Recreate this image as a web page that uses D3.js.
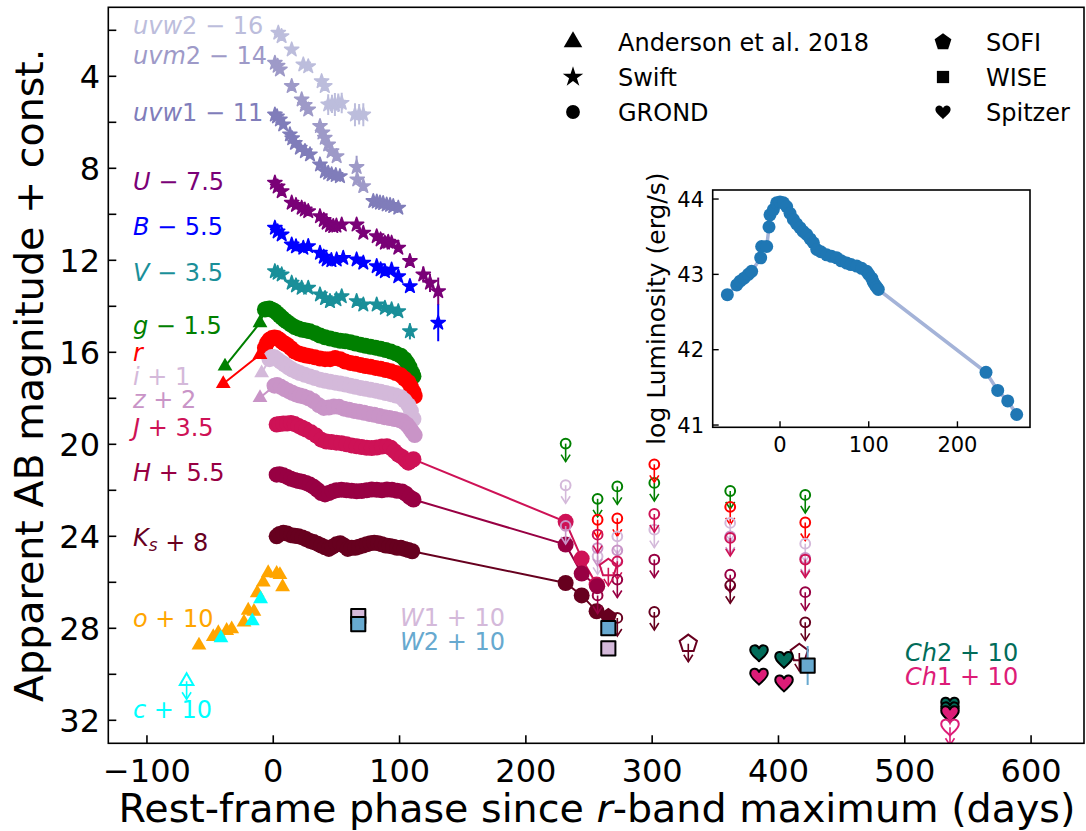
<!DOCTYPE html>
<html>
<head>
<meta charset="utf-8">
<script src="https://cdn.jsdelivr.net/npm/d3@7"></script>
<style>
  body { margin: 0; background: #fff; }
  svg { font-family: 'DejaVu Sans', sans-serif; }
</style>
</head>
<body>
<svg id="chart" width="1086" height="831"></svg>
<script>
// ---- Swift UVOT (phase, mag, err) ----
const uvw2 = [[4.0,2.11],[6.6,2.26],[14.6,2.84],[23.8,3.49],[27.7,3.57],[38.3,4.22],[40.8,4.43],[43.5,5.23,0.45],[46.5,5.2,0.4],[48.8,5.23,0.5],[51.5,5.15,0.4],[54.2,5.16,0.45],[64.7,5.67,0.5],[68,5.65,0.45],[71.3,5.67,0.5]];
const uvm2 = [[1.3,3.42],[3.5,3.55],[5.3,3.71],[14.6,4.43],[22.5,5.01],[25,5.25],[27.7,5.45],[37.0,6.17],[39,6.45],[40.8,6.68],[43.5,6.97],[46.2,7.26],[50.2,7.48],[66.0,7.95,0.5],[66.5,8.49],[71.3,8.78]];
const uvw1 = [[1.3,5.67],[3,5.75],[5.3,5.88],[7.9,6.10],[13.2,6.53],[15,6.7],[17.2,6.90],[21.1,7.11],[25.1,7.26],[29.1,7.40],[37.0,7.84],[40.9,8.13],[43.5,8.2],[46.2,8.27],[49.5,8.3],[52.8,8.35],[79.2,9.43,0.2],[82,9.45,0.2],[84.5,9.50,0.2],[87,9.52,0.2],[89.8,9.58,0.2],[92.5,9.6,0.2],[95.0,9.65,0.2],[99.0,9.72,0.2]];
const uBand = [[1.3,8.63],[3.5,8.8],[6.7,9.0],[14.6,9.50],[18,9.6],[22.5,9.72],[25,9.8],[27.7,9.87],[37.0,10.09],[40,10.25],[42.3,10.37],[45,10.48],[47.5,10.52],[50,10.5],[54.2,10.45],[66.0,10.45],[71.3,10.81],[81.9,10.96],[85,11.1],[88.4,11.24],[91,11.2],[93.7,11.24],[99.0,11.46],[108.2,12.04],[118.8,12.62,0.35],[124.1,12.98,0.4],[130.6,13.35,0.6]];
const bBand = [[1.3,10.59],[3.5,10.75],[6.7,10.88],[14.6,11.32],[18,11.4],[23.8,11.46],[27.7,11.39],[37.0,11.68],[40,11.85],[42.3,11.97],[46,12.0],[50.2,11.97],[55.4,11.90],[66.0,11.97],[71.3,12.11],[81.9,12.26],[85,12.4],[88.4,12.48],[93.7,12.41],[99.0,12.70],[108.2,13.13],[130.6,14.72,0.8]];
const vBand = [[1.3,12.48],[3.5,12.55],[6.7,12.62],[14.6,12.98],[18,13.1],[22.5,13.20],[27.7,13.20],[37.0,13.49],[41,13.65],[44.9,13.78],[50,13.7],[54.2,13.57],[66.0,13.78],[71.3,13.93],[81.9,13.93],[88.4,14.07],[93.7,14.14],[99.0,14.22],[108.2,15.09,0.35]];

// ---- GROND (phase, mag) ----
const gGrond = [[-6.6,14.14],[-5,14.12],[-3,14.1],[-1,14.15],[1,14.2],[3,14.3],[5,14.4],[7,14.5],[9,14.6],[11,14.68],[14,14.8],[17,14.9],[20,14.97],[23,15.02],[26,15.05],[29,15.09],[33,15.17],[37,15.27],[41,15.35],[45,15.4],[49,15.45],[53,15.5],[57,15.52],[61,15.56],[65,15.62],[69,15.67],[73,15.72],[77,15.76],[81,15.8],[85,15.85],[89,15.9],[93,15.97],[97,16.05],[101,16.15],[104,16.3],[106,16.45],[108,16.65],[110,16.9],[111,17.04]];
const rGrond = [[-6.6,15.81],[-5,15.6],[-3,15.45],[-1,15.38],[1,15.36],[3,15.38],[5,15.45],[7,15.55],[9,15.62],[11,15.68],[14,15.82],[17,15.97],[20,16.05],[23,16.1],[26,16.14],[29,16.17],[33,16.22],[37,16.27],[41,16.3],[45,16.3],[49,16.25],[53,16.3],[57,16.4],[61,16.46],[65,16.5],[69,16.55],[73,16.6],[77,16.63],[81,16.68],[85,16.72],[89,16.77],[93,16.82],[97,16.9],[101,17.0],[104,17.15],[107,17.3],[109,17.5],[111,17.72],[112,17.9]];
const iGrond = [[-3,16.3],[-1,16.2],[1,16.22],[3,16.3],[6,16.42],[9,16.53],[12,16.65],[15,16.75],[18,16.83],[21,16.9],[25,16.98],[29,17.05],[33,17.12],[37,17.19],[41,17.24],[45,17.28],[49,17.32],[53,17.36],[57,17.4],[61,17.45],[65,17.5],[69,17.55],[73,17.59],[77,17.63],[81,17.67],[85,17.72],[89,17.77],[93,17.82],[97,17.88],[101,17.95],[104,18.1],[107,18.3],[109,18.55],[111,18.9]];
const zGrond = [[1,17.45],[3,17.42],[6,17.5],[9,17.6],[12,17.68],[15,17.76],[18,17.83],[21,17.88],[24,17.92],[28,18.0],[32,18.12],[36,18.3],[40,18.42],[44,18.4],[48,18.36],[52,18.37],[56,18.45],[60,18.5],[64,18.55],[68,18.59],[72,18.63],[76,18.68],[80,18.72],[84,18.77],[88,18.82],[92,18.86],[96,18.9],[100,18.95],[103,19.02],[106,19.15],[108,19.3],[110,19.45],[112,19.6]];
const jGrond = [[2.7,19.14],[5,19.12],[8,19.1],[11,19.1],[14,19.07],[17,19.12],[20,19.2],[23,19.28],[26,19.36],[30,19.48],[34,19.62],[38,19.8],[42,19.88],[46,19.9],[50,19.93],[54,19.95],[58,20.0],[62,20.05],[66,20.09],[70,20.12],[74,20.15],[78,20.16],[82,20.14],[86,20.1],[90,20.08],[93,20.15],[96,20.3],[99,20.45],[102,20.55],[105,20.7],[107,20.8],[109,20.72],[111,20.65]];
const hGrond = [[2.7,21.32],[5,21.3],[8,21.35],[11,21.42],[14,21.5],[17,21.55],[20,21.6],[23,21.63],[26,21.68],[29,21.75],[32,21.85],[35,21.98],[38,22.12],[41,22.18],[44,22.12],[47,22.05],[50,22.0],[54,21.98],[58,22.0],[62,22.02],[66,22.04],[70,22.03],[74,22.0],[78,21.97],[82,21.98],[86,22.0],[90,21.97],[94,21.98],[98,22.02],[102,22.05],[105,22.15],[108,22.3],[111,22.4]];
const ksGrond = [[2.7,24.0],[5,23.9],[8,23.85],[11,23.88],[14,23.95],[17,23.98],[20,24.0],[23,24.05],[26,24.12],[29,24.2],[32,24.25],[35,24.32],[38,24.4],[41,24.48],[44,24.55],[47,24.45],[50,24.35],[53,24.3],[56,24.4],[59,24.55],[62,24.5],[65,24.5],[68,24.45],[71,24.4],[74,24.35],[77,24.3],[80,24.28],[83,24.3],[86,24.35],[89,24.4],[92,24.42],[95,24.45],[98,24.5],[101,24.5],[104,24.55],[107,24.6],[110,24.65]];
const jLate = [[231.5,23.37],[244.2,24.97],[256.0,26.10]];
const hLate = [[231.5,24.36],[244.2,25.62],[256.5,26.17]];
const ksLate = [[231.5,26.03],[244.2,26.57],[256.0,27.26]];

// ---- GROND upper limits ----
const gLim = [[231.5,19.97],[256.8,22.37],[272.4,21.83],[301.7,21.68],[361.8,22.03],[421.2,22.2]];
const rLim = [[256.8,23.28],[272.4,23.22],[301.7,20.87],[361.8,22.72],[421.2,23.40]];
const iLim = [[231.5,21.78],[256.8,24.87],[272.4,24.0],[301.7,23.71],[361.8,23.42],[421.2,24.32]];
const zLim = [[231.5,23.55],[256.8,24.51],[272.4,24.61],[361.8,24.0],[421.2,24.94]];
const jLim = [[256.8,23.93],[272.4,25.09],[301.7,23.03],[361.8,24.07],[421.2,25.01]];
const hLim = [[256.8,26.57],[272.4,25.88],[301.7,25.01],[361.8,25.67],[421.2,26.43]];
const ksLim = [[272.4,27.55],[301.7,27.29],[361.8,26.13],[421.2,27.74]];

// ---- Anderson et al. 2018 ----
const gAnd = [[-38.2,16.61],[-10.5,14.72]];
const rAnd = [[-39.6,17.37],[-10.5,16.10]];
const iAnd = [[-9.2,16.9]];
const zAnd = [[-10.5,17.98]];
const oAnd = [[-58.8,28.74],[-47.5,28.37],[-43.5,28.20],[-36.9,28.10],[-32.9,28.03],[-23.2,27.74],[-19.8,27.22],[-15.3,27.27],[-12.7,26.46],[-7.9,26.0],[-4.0,25.59],[2.7,25.62],[5.3,25.67],[7.4,26.20]];
const cAnd = [[-41.4,28.42],[-16.6,27.68],[-10.0,26.72]];
const cLim = [[-68.6,30.3]];

// ---- SOFI, WISE, Spitzer ----
const sofiJLim = [[265.3,25.37]];
const sofiKs = [[265.3,27.5]];
const sofiKsLim = [[328.6,28.67],[416.5,29.07]];
const wiseW1 = [[67.3,27.47],[265.3,28.87,0.3]];
const wiseW2 = [[67.3,27.82],[265.3,27.99],[423.1,29.62,0.85]];
const ch2 = [[384.6,29.07],[404.4,29.36],[535.8,31.35],[535.8,31.55]];
const ch1 = [[384.6,30.09],[404.4,30.38],[535.8,31.72]];
const ch1Lim = [[535.8,32.3]];

// ---- bolometric luminosity (inset) ----
const lumData = [[-59.4,42.73],[-48.8,42.86],[-45,42.91],[-40.6,42.95],[-35.7,43.0],[-32,43.04],[-21.8,43.22],[-20.7,43.37],[-15,43.37],[-12.4,43.63],[-11.3,43.79],[-7.5,43.86],[-3.8,43.95],[0,43.96],[3.8,43.95],[7.5,43.9],[11.3,43.81],[15,43.73],[18.7,43.67],[22.5,43.62],[26,43.57],[30,43.53],[34,43.47],[37.6,43.42],[41.4,43.33],[46,43.3],[52.6,43.26],[58,43.24],[63.9,43.22],[69,43.18],[75.2,43.15],[80,43.13],[86.5,43.11],[92,43.08],[97.7,43.04],[100,43.0],[103.4,42.95],[105,42.9],[107.1,42.86],[109,42.83],[110.8,42.80],[232.2,41.70],[245.4,41.46],[256.7,41.32],[266.8,41.14]];

// ---- ticks and legend ----
const xTicks = [-100, 0, 100, 200, 300, 400, 500, 600];
const yTicks = d3.range(2, 33, 2);
const yLabels = [4, 8, 12, 16, 20, 24, 28, 32];
const insetXTicks = [0, 100, 200];
const insetYTicks = [41, 42, 43, 44];
const legendItems = [
  { key: 'Anderson et al. 2018', shape: 'triangle', col: 0, row: 0 },
  { key: 'Swift', shape: 'star', col: 0, row: 1 },
  { key: 'GROND', shape: 'circle', col: 0, row: 2 },
  { key: 'SOFI', shape: 'pentagon', col: 1, row: 0 },
  { key: 'WISE', shape: 'square', col: 1, row: 1 },
  { key: 'Spitzer', shape: 'heart', col: 1, row: 2 }
];

// band labels: [parts, color, x, baseline]; part = [text, italic?, sub?]
const bandLabels = [
  [[['uvw', 1], ['2'], [' \u2212 16']], '#bcbddc', 133, 34],
  [[['uvm', 1], ['2'], [' \u2212 14']], '#9e9ac8', 133, 64],
  [[['uvw', 1], ['1'], [' \u2212 11']], '#807dba', 133, 121],
  [[['U', 1], [' \u2212 7.5']], '#7a0177', 133, 190],
  [[['B', 1], [' \u2212 5.5']], '#0000ff', 133, 235],
  [[['V', 1], [' \u2212 3.5']], '#1a8f99', 133, 281],
  [[['g', 1], [' \u2212 1.5']], '#008000', 133, 334],
  [[['r', 1]], '#ff0000', 133, 361],
  [[['i', 1], [' + 1']], '#d4b9da', 133, 385],
  [[['z', 1], [' + 2']], '#c994c7', 133, 408],
  [[['J', 1], [' + 3.5']], '#ce1256', 133, 436],
  [[['H', 1], [' + 5.5']], '#980043', 133, 481],
  [[['K', 1], ['s', 1, 1], [' + 8']], '#67001f', 133, 546],
  [[['o', 1], [' + 10']], '#ffa500', 133, 627],
  [[['c', 1], [' + 10']], '#00ffff', 133, 718],
  [[['W', 1], ['1'], [' + 10']], '#d4b9da', 400, 626],
  [[['W', 1], ['2'], [' + 10']], '#67a9cf', 400, 650],
  [[['Ch', 1], ['2'], [' + 10']], '#016c59', 905, 661],
  [[['Ch', 1], ['1'], [' + 10']], '#dd1c77', 905, 685]
];

const C = {
  uvw2: '#bcbddc', uvm2: '#9e9ac8', uvw1: '#807dba', U: '#7a0177', B: '#0000ff', V: '#1a8f99',
  g: '#008000', r: '#ff0000', i: '#d4b9da', z: '#c994c7', J: '#ce1256', H: '#980043', Ks: '#67001f',
  o: '#ffa500', c: '#00ffff', W1: '#d4b9da', W2: '#67a9cf', Ch2: '#016c59', Ch1: '#dd1c77'
};

const svg = d3.select('#chart');
const margin = { left: 108.3, right: 1084, top: 7.3, bottom: 743.3 };

const x = d3.scaleLinear().domain([-130.6, 641.9]).range([margin.left, margin.right]);
const y = d3.scaleLinear().domain([1, 33]).range([margin.top, margin.bottom]);

// shape helpers
function pentagon(r) {
  const pts = d3.range(5).map(k => {
    const a = -Math.PI / 2 + k * 2 * Math.PI / 5;
    return [r * Math.cos(a), r * Math.sin(a)];
  });
  return 'M' + pts.map(p => p.join(',')).join('L') + 'Z';
}
function heart(s) {
  return `M0,${0.95*s} C${-0.3*s},${0.6*s} ${-1.05*s},${0.15*s} ${-1.0*s},${-0.38*s} ` +
    `C${-0.95*s},${-0.95*s} ${-0.2*s},${-1.05*s} 0,${-0.5*s} ` +
    `C${0.2*s},${-1.05*s} ${0.95*s},${-0.95*s} ${1.0*s},${-0.38*s} ` +
    `C${1.05*s},${0.15*s} ${0.3*s},${0.6*s} 0,${0.95*s} Z`;
}
const shapePath = {
  triangle: size => d3.symbol().type(d3.symbolTriangle).size(size)(),
  star: size => d3.symbol().type(d3.symbolStar).size(size)(),
  circle: size => d3.symbol().type(d3.symbolCircle).size(size)(),
  square: size => d3.symbol().type(d3.symbolSquare).size(size)(),
  pentagon: size => pentagon(Math.sqrt(size) * 0.72),
  heart: size => heart(Math.sqrt(size) * 0.62)
};

// clip for the main panel
svg.append('clipPath').attr('id', 'clipMain').append('rect')
  .attr('x', margin.left).attr('y', margin.top)
  .attr('width', margin.right - margin.left).attr('height', margin.bottom - margin.top);

const plot = svg.append('g').attr('clip-path', 'url(#clipMain)');
const lineGen = d3.line().x(d => x(d[0])).y(d => y(d[1]));

function drawLine(data, color, w = 2) {
  plot.append('path').datum(data.slice().sort((a, b) => a[0] - b[0]))
    .attr('d', lineGen).attr('fill', 'none').attr('stroke', color).attr('stroke-width', w);
}
function drawErr(data, color) {
  plot.append('g').selectAll('line').data(data.filter(d => d[2])).join('line')
    .attr('x1', d => x(d[0])).attr('x2', d => x(d[0]))
    .attr('y1', d => y(d[1] - d[2])).attr('y2', d => y(d[1] + d[2]))
    .attr('stroke', color).attr('stroke-width', 2);
}
function drawMarks(data, shape, size, fill, stroke, sw) {
  plot.append('g').selectAll('path').data(data).join('path')
    .attr('d', shapePath[shape](size))
    .attr('transform', d => `translate(${x(d[0])},${y(d[1])})`)
    .attr('fill', fill).attr('stroke', stroke || 'none').attr('stroke-width', sw || 0)
    .attr('stroke-linejoin', 'round');
}
function drawLimits(data, shape, size, color) {
  const g = plot.append('g').attr('stroke', color).attr('fill', 'none').attr('stroke-width', 1.6);
  data.forEach(d => {
    const px = x(d[0]), py = y(d[1]);
    g.append('line').attr('x1', px).attr('x2', px).attr('y1', py).attr('y2', py + 18);
    g.append('path').attr('d', `M${px - 4.5},${py + 11} L${px},${py + 18} L${px + 4.5},${py + 11}`);
    g.append('path').attr('d', shapePath[shape](size)).attr('transform', `translate(${px},${py})`)
      .attr('stroke-width', 2);
  });
}

// connecting lines
drawLine(gAnd.concat(gGrond), C.g);
drawLine(rAnd.concat(rGrond), C.r);
drawLine(iAnd.concat(iGrond), C.i);
drawLine(zAnd.concat(zGrond), C.z);
drawLine(jGrond.concat(jLate), C.J);
drawLine(hGrond.concat(hLate), C.H);
drawLine(ksGrond.concat(ksLate, sofiKs), C.Ks);

// GROND bands
[[gGrond, C.g], [rGrond, C.r], [iGrond, C.i], [zGrond, C.z], [jGrond, C.J], [hGrond, C.H], [ksGrond, C.Ks],
 [jLate, C.J], [hLate, C.H], [ksLate, C.Ks]]
  .forEach(([data, col]) => {
    plot.append('g').selectAll('circle').data(data).join('circle')
      .attr('cx', d => x(d[0])).attr('cy', d => y(d[1])).attr('r', 8).attr('fill', col);
  });

// Swift stars
[[uvw2, C.uvw2], [uvm2, C.uvm2], [uvw1, C.uvw1], [uBand, C.U], [bBand, C.B], [vBand, C.V]]
  .forEach(([data, col]) => {
    drawErr(data, col);
    drawMarks(data, 'star', 62, col, col, 1.6);
  });

// Anderson triangles
drawMarks(gAnd, 'triangle', 95, C.g);
drawMarks(rAnd, 'triangle', 95, C.r);
drawMarks(iAnd, 'triangle', 95, C.i);
drawMarks(zAnd, 'triangle', 95, C.z);
drawMarks(oAnd, 'triangle', 95, C.o);
drawMarks(cAnd, 'triangle', 95, C.c);
drawLimits(cLim, 'triangle', 80, C.c);

// upper limits
drawLimits(gLim, 'circle', 75, C.g);
drawLimits(rLim, 'circle', 75, C.r);
drawLimits(iLim, 'circle', 75, C.i);
drawLimits(zLim, 'circle', 75, C.z);
drawLimits(jLim, 'circle', 75, C.J);
drawLimits(hLim, 'circle', 75, C.H);
drawLimits(ksLim, 'circle', 75, C.Ks);

// SOFI
drawMarks(sofiKs, 'pentagon', 160, C.Ks);
drawLimits(sofiJLim, 'pentagon', 160, C.J);
drawLimits(sofiKsLim, 'pentagon', 160, C.Ks);

// WISE
drawErr(wiseW1, C.W1);
drawErr(wiseW2, C.W2);
drawMarks(wiseW1, 'square', 200, C.W1, '#000', 2);
drawMarks(wiseW2, 'square', 200, C.W2, '#000', 2);

// Spitzer
drawMarks(ch2, 'heart', 200, C.Ch2, '#000', 2);
drawMarks(ch1, 'heart', 200, C.Ch1, '#000', 2);
drawLimits(ch1Lim, 'heart', 200, C.Ch1);

// frame
svg.append('rect').attr('x', margin.left).attr('y', margin.top)
  .attr('width', margin.right - margin.left).attr('height', margin.bottom - margin.top)
  .attr('fill', 'none').attr('stroke', '#000').attr('stroke-width', 1.6);

// ticks (inward)
const axes = svg.append('g').attr('stroke', '#000').attr('stroke-width', 1.6);
xTicks.forEach(t => axes.append('line').attr('x1', x(t)).attr('x2', x(t))
  .attr('y1', margin.bottom).attr('y2', margin.bottom - 8));
yTicks.forEach(t => axes.append('line').attr('x1', margin.left).attr('x2', margin.left + 8)
  .attr('y1', y(t)).attr('y2', y(t)));

svg.append('g').selectAll('text').data(xTicks).join('text')
  .attr('x', d => x(d)).attr('y', 782).attr('text-anchor', 'middle')
  .attr('font-size', 32).text(d => d < 0 ? '\u2212' + Math.abs(d) : d);
svg.append('g').selectAll('text').data(yLabels).join('text')
  .attr('x', 100).attr('y', d => y(d) + 11.7).attr('text-anchor', 'end')
  .attr('font-size', 32).text(d => d);

// axis labels
const xl = svg.append('text').attr('x', 597).attr('y', 822).attr('text-anchor', 'middle').attr('font-size', 39.6);
xl.append('tspan').text('Rest-frame phase since ');
xl.append('tspan').attr('font-style', 'italic').text('r');
xl.append('tspan').text('-band maximum (days)');
svg.append('text').attr('transform', `translate(43,${(margin.top + margin.bottom) / 2}) rotate(-90)`)
  .attr('text-anchor', 'middle').attr('font-size', 39.6).text('Apparent AB magnitude + const.');

// band labels
bandLabels.forEach(([parts, col, lx, ly]) => {
  const t = svg.append('text').attr('x', lx).attr('y', ly).attr('font-size', 24).attr('fill', col)
    .attr('xml:space', 'preserve').style('white-space', 'pre');
  parts.forEach(p => {
    const s = t.append('tspan').text(p[0]);
    if (p[1]) s.attr('font-style', 'italic');
    if (p[2]) s.attr('font-size', 17).attr('dy', 5);
  });
});

// legend
const legend = svg.append('g');
legendItems.forEach(d => {
  const mx = d.col === 0 ? 573 : 943;
  const tx = d.col === 0 ? 618 : 986;
  const my = 42 + d.row * 35;
  legend.append('path').attr('d', shapePath[d.shape](d.shape === 'star' ? 130 : 150))
    .attr('transform', `translate(${mx},${my})`).attr('fill', '#000');
  legend.append('text').attr('x', tx).attr('y', my + 9).attr('font-size', 24).text(d.key);
});

// ---- inset ----
const ix = d3.scaleLinear().domain([-75.9, 281.8]).range([712.7, 1030]);
const iy = d3.scaleLinear().domain([40.97, 44.12]).range([427.3, 190]);
const inset = svg.append('g');
inset.append('rect').attr('x', 712.7).attr('y', 190).attr('width', 1030 - 712.7).attr('height', 427.3 - 190)
  .attr('fill', '#fff').attr('stroke', '#000').attr('stroke-width', 1.6);
inset.append('path').datum(lumData)
  .attr('d', d3.line().x(d => ix(d[0])).y(d => iy(d[1])))
  .attr('fill', 'none').attr('stroke', '#a4b3d8').attr('stroke-width', 3.5);
inset.append('g').selectAll('circle').data(lumData).join('circle')
  .attr('cx', d => ix(d[0])).attr('cy', d => iy(d[1])).attr('r', 6.5).attr('fill', '#1f77b4');
const iax = inset.append('g').attr('stroke', '#000').attr('stroke-width', 1.4);
insetXTicks.forEach(t => iax.append('line').attr('x1', ix(t)).attr('x2', ix(t)).attr('y1', 427.3).attr('y2', 421.3));
insetYTicks.forEach(t => iax.append('line').attr('x1', 712.7).attr('x2', 718.7).attr('y1', iy(t)).attr('y2', iy(t)));
inset.append('g').selectAll('text').data(insetXTicks).join('text')
  .attr('x', d => ix(d)).attr('y', 452).attr('text-anchor', 'middle').attr('font-size', 21).text(d => d);
inset.append('g').selectAll('text').data(insetYTicks).join('text')
  .attr('x', 704).attr('y', d => iy(d) + 7.7).attr('text-anchor', 'end').attr('font-size', 21).text(d => d);
inset.append('text').attr('transform', `translate(665,${(190 + 427.3) / 2 + 0}) rotate(-90)`)
  .attr('text-anchor', 'middle').attr('font-size', 25).text('log Luminosity (erg/s)');
</script>
</body>
</html>
